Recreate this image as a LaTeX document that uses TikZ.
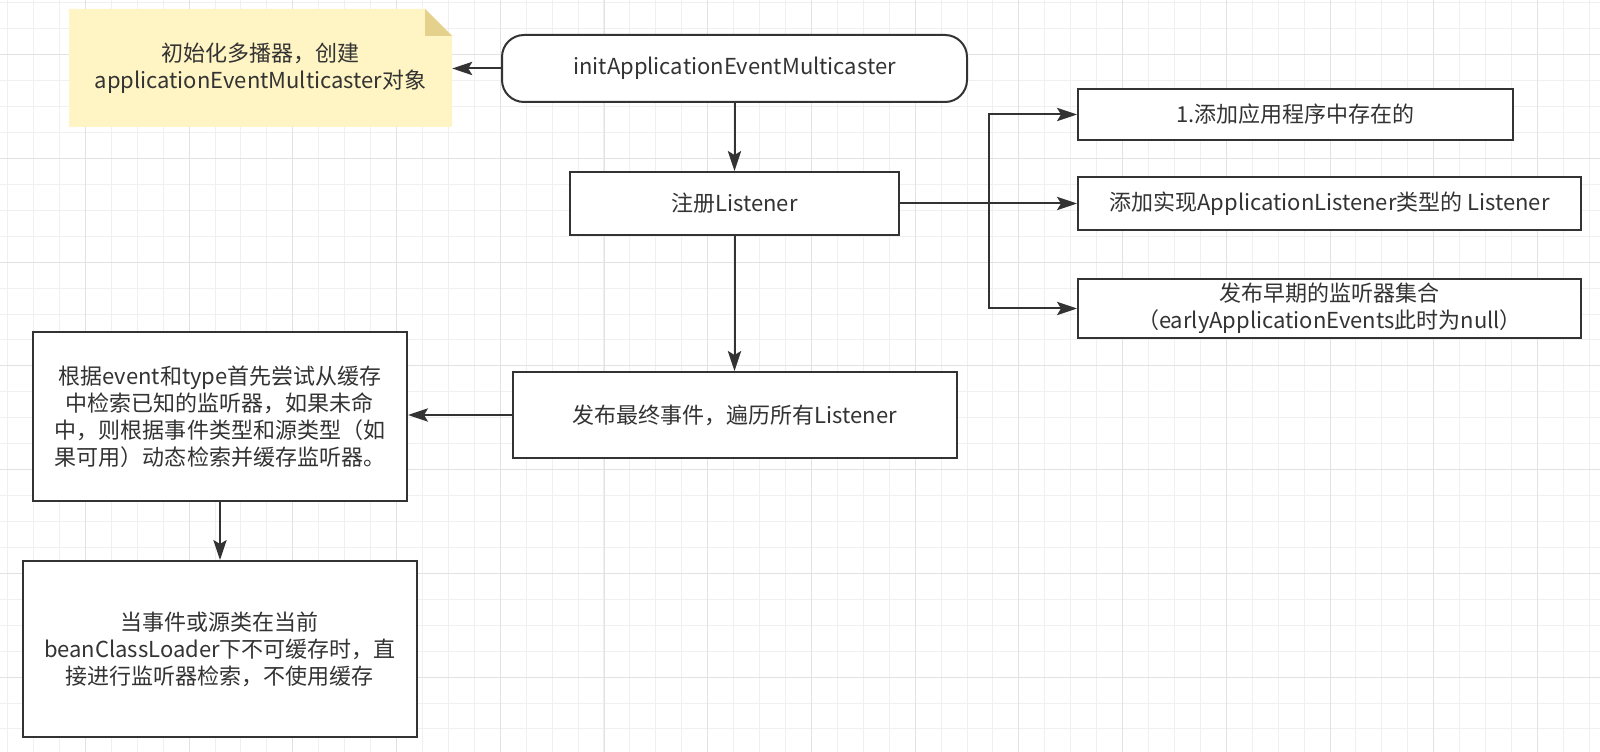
\documentclass[tikz,border=0pt]{standalone}
\usepackage{fontspec}
\setmainfont{Noto Sans CJK SC}
\usetikzlibrary{arrows.meta}
\definecolor{linec}{HTML}{333333}
\definecolor{txtc}{HTML}{333333}
\definecolor{notefill}{HTML}{FFF4C3}
\definecolor{notefold}{HTML}{E3D18C}
\definecolor{gridminor}{HTML}{F0F0F0}
\definecolor{gridmajor}{HTML}{E2E2E2}
\begin{document}
\begin{tikzpicture}[x=0.75pt,y=-0.75pt,
  every node/.style={font=\fontsize{16.5pt}{20.25pt}\selectfont, text=txtc, align=center, inner sep=0pt},
  sz/.style 2 args={minimum width=#1*0.75pt, minimum height=#2*0.75pt},
  box/.style={draw=linec, line width=1.5pt, fill=white},
  arr/.style={draw=linec, line width=1.5pt, -{Stealth[length=15pt,width=10pt,inset=3pt]}}]
\fill[white] (0,0) rectangle (1600,752);
\useasboundingbox (0,0) rectangle (1600,752);
% grid
\foreach \k in {0,...,61}{\pgfmathsetmacro\gx{7.6+25.93*\k}\draw[gridminor,line width=0.75pt] (\gx,0) -- (\gx,752);}
\foreach \k in {0,...,28}{\pgfmathsetmacro\gy{2.9+25.93*\k}\draw[gridminor,line width=0.75pt] (0,\gy) -- (1600,\gy);}
\foreach \k in {0,...,14}{\pgfmathsetmacro\gx{85.4+103.72*\k}\draw[gridmajor,line width=0.75pt] (\gx,0) -- (\gx,752);}
\foreach \k in {0,...,6}{\pgfmathsetmacro\gy{54.8+103.72*\k}\draw[gridmajor,line width=0.75pt] (0,\gy) -- (1600,\gy);}
% note shape
\fill[notefill] (69,9) -- (425,9) -- (452,36) -- (452,127) -- (69,127) -- cycle;
\fill[notefold] (425,9) -- (425,36) -- (452,36) -- cycle;
\node[sz={383}{118}] (note) at (260.5,68) {初始化多播器，创建\\applicationEventMulticaster对象};
% nodes
\node[box, rounded corners=16.5pt, sz={465}{67}] (init) at (734.5,68.5) {initApplicationEventMulticaster};
\node[box, sz={329}{63}] (reg) at (734.5,203.5) {注册Listener};
\node[box, sz={444}{86}] (fin) at (735,415) {发布最终事件，遍历所有Listener};
\node[box, sz={374}{169}] (cache) at (220,416.5) {根据event和type首先尝试从缓存\\中检索已知的监听器，如果未命\\中，则根据事件类型和源类型（如\\果可用）动态检索并缓存监听器。};
\node[box, sz={394}{176}] (direct) at (220,649) {当事件或源类在当前\\beanClassLoader下不可缓存时，直\\接进行监听器检索，不使用缓存};
\node[box, sz={435}{51}] (r1) at (1295.5,114.5) {1.添加应用程序中存在的};
\node[box, sz={503}{53}] (r2) at (1329.5,203.5) {添加实现ApplicationListener类型的 Listener};
\node[box, sz={503}{59}] (r3) at (1329.5,308.5) {发布早期的监听器集合\\（earlyApplicationEvents此时为null）};
% connectors
\draw[arr] (init.west) -- (init.west -| note.east);
\draw[arr] (init.south) -- (reg.north);
\draw[arr] (reg.south) -- (reg.south |- fin.north);
\draw[arr] (fin.west) -- (fin.west -| cache.east);
\draw[arr] (cache.south) -- (cache.south |- direct.north);
\coordinate (br) at (989,203.5);
\draw[arr] (reg.east) -- (r2.west);
\draw[arr] (br) |- (r1.west);
\draw[arr] (br) |- (r3.west);
\end{tikzpicture}
\end{document}
